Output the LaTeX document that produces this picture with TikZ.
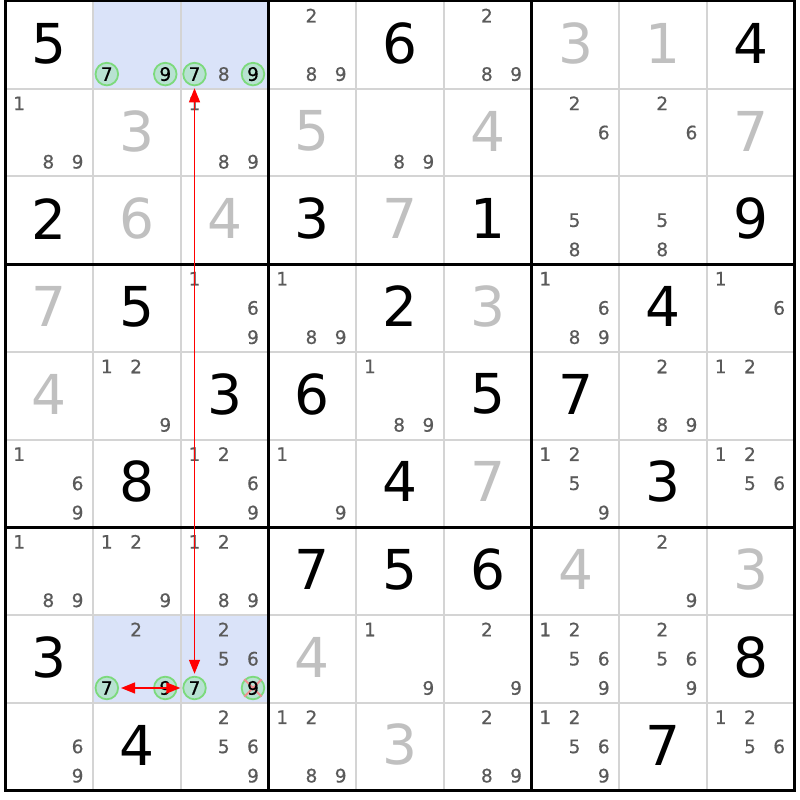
\documentclass[tikz,border=0pt]{standalone}
\usepackage{fontspec}
\setmainfont{DejaVu Sans}
\newfontfamily\candfont[FakeBold=0.6]{DejaVu Sans}
\usetikzlibrary{arrows.meta}
\definecolor{candgray}{HTML}{5A5A5A}
\definecolor{givengray}{HTML}{C0C0C0}
\definecolor{hilite}{HTML}{DAE3F9}
\definecolor{thingrid}{HTML}{D4D4D4}
\definecolor{ringgreen}{HTML}{7CDA7C}
\definecolor{ringfill}{HTML}{B8E2D2}
\definecolor{crosspink}{HTML}{F09090}
\definecolor{arrowred}{HTML}{FF0000}
\def\XO{5.5}
\def\YO{1}
\def\CS{87.7}
\tikzset{
  bigdigit/.style={inner sep=0pt, font=\fontsize{55}{55}\selectfont},
  canddigit/.style={inner sep=0pt, text=candgray, font=\candfont\fontsize{18.5}{18.5}\selectfont},
  ringnode/.style={circle, minimum size=22.6pt, inner sep=0pt, draw=ringgreen, fill=ringfill, line width=1.8pt},
  ringtext/.style={inner sep=0pt, text=black, font=\candfont\fontsize{18.5}{18.5}\selectfont},
  crossline/.style={draw=crosspink, line width=2pt},
  linkarrow/.style={draw=arrowred, line width=1.3pt, {Triangle[length=14pt,width=11pt]}-{Triangle[length=14pt,width=11pt]}, shorten <=2pt, shorten >=2pt},
  thinline/.style={draw=thingrid, line width=2pt},
  thickline/.style={draw=black, line width=3pt}
}
% big digit: row, col, digit, colour
\newcommand{\BigD}[4]{%
  \node[bigdigit, text=#4] (g-#1-#2) at ({\XO+(#2+0.5)*\CS},{\YO+(#1+0.5)*\CS-1.5}) {#3};}
% candidates: row, col, list
\newcommand{\Cands}[3]{%
  \foreach \d in {#3} {
    \pgfmathtruncatemacro{\sr}{(\d-1)/3}
    \pgfmathtruncatemacro{\sc}{\d-1-3*\sr}
    \node[canddigit] (k-#1-#2-\d) at ({\XO+#2*\CS+(\sc+0.5)*\CS/3-1},{\YO+#1*\CS+(\sr+0.5)*\CS/3}) {\d};
  }}
% ringed candidate: name, row, col, digit
\newcommand{\Ring}[4]{%
  \pgfmathtruncatemacro{\sr}{(#4-1)/3}
  \pgfmathtruncatemacro{\sc}{#4-1-3*\sr}
  \node[ringnode] (#1) at ({\XO+#3*\CS+(\sc+0.5)*\CS/3-1},{\YO+#2*\CS+(\sr+0.5)*\CS/3}) {};}
\begin{document}
\begin{tikzpicture}[x=1pt,y=-1pt]
\useasboundingbox (0,0) rectangle (800,800);
\fill[white] (0,0) rectangle (800,800);
% highlighted cells
\fill[hilite] ({\XO+\CS},{\YO}) rectangle ({\XO+3*\CS},{\YO+\CS});
\fill[hilite] ({\XO+\CS},{\YO+7*\CS}) rectangle ({\XO+3*\CS},{\YO+8*\CS});
% thin lines
\foreach \i in {1,2,4,5,7,8} {
  \draw[thinline] ({\XO+\i*\CS},{\YO}) -- ({\XO+\i*\CS},{\YO+9*\CS});
  \draw[thinline] ({\XO},{\YO+\i*\CS}) -- ({\XO+9*\CS},{\YO+\i*\CS});
}
% thick lines
\foreach \i in {0,3,6,9} {
  \draw[thickline] ({\XO+\i*\CS},{\YO-1.5}) -- ({\XO+\i*\CS},{\YO+9*\CS+1.5});
  \draw[thickline] ({\XO-1.5},{\YO+\i*\CS}) -- ({\XO+9*\CS+1.5},{\YO+\i*\CS});
}
% row 0
\BigD{0}{0}{5}{black}
\Cands{0}{2}{8}
\Cands{0}{3}{2,8,9}
\BigD{0}{4}{6}{black}
\Cands{0}{5}{2,8,9}
\BigD{0}{6}{3}{givengray}
\BigD{0}{7}{1}{givengray}
\BigD{0}{8}{4}{black}
% row 1
\Cands{1}{0}{1,8,9}
\BigD{1}{1}{3}{givengray}
\Cands{1}{2}{1,8,9}
\BigD{1}{3}{5}{givengray}
\Cands{1}{4}{8,9}
\BigD{1}{5}{4}{givengray}
\Cands{1}{6}{2,6}
\Cands{1}{7}{2,6}
\BigD{1}{8}{7}{givengray}
% row 2
\BigD{2}{0}{2}{black}
\BigD{2}{1}{6}{givengray}
\BigD{2}{2}{4}{givengray}
\BigD{2}{3}{3}{black}
\BigD{2}{4}{7}{givengray}
\BigD{2}{5}{1}{black}
\Cands{2}{6}{5,8}
\Cands{2}{7}{5,8}
\BigD{2}{8}{9}{black}
% row 3
\BigD{3}{0}{7}{givengray}
\BigD{3}{1}{5}{black}
\Cands{3}{2}{1,6,9}
\Cands{3}{3}{1,8,9}
\BigD{3}{4}{2}{black}
\BigD{3}{5}{3}{givengray}
\Cands{3}{6}{1,6,8,9}
\BigD{3}{7}{4}{black}
\Cands{3}{8}{1,6}
% row 4
\BigD{4}{0}{4}{givengray}
\Cands{4}{1}{1,2,9}
\BigD{4}{2}{3}{black}
\BigD{4}{3}{6}{black}
\Cands{4}{4}{1,8,9}
\BigD{4}{5}{5}{black}
\BigD{4}{6}{7}{black}
\Cands{4}{7}{2,8,9}
\Cands{4}{8}{1,2}
% row 5
\Cands{5}{0}{1,6,9}
\BigD{5}{1}{8}{black}
\Cands{5}{2}{1,2,6,9}
\Cands{5}{3}{1,9}
\BigD{5}{4}{4}{black}
\BigD{5}{5}{7}{givengray}
\Cands{5}{6}{1,2,5,9}
\BigD{5}{7}{3}{black}
\Cands{5}{8}{1,2,5,6}
% row 6
\Cands{6}{0}{1,8,9}
\Cands{6}{1}{1,2,9}
\Cands{6}{2}{1,2,8,9}
\BigD{6}{3}{7}{black}
\BigD{6}{4}{5}{black}
\BigD{6}{5}{6}{black}
\BigD{6}{6}{4}{givengray}
\Cands{6}{7}{2,9}
\BigD{6}{8}{3}{givengray}
% row 7
\BigD{7}{0}{3}{black}
\Cands{7}{1}{2}
\Cands{7}{2}{2,5,6}
\BigD{7}{3}{4}{givengray}
\Cands{7}{4}{1,9}
\Cands{7}{5}{2,9}
\Cands{7}{6}{1,2,5,6,9}
\Cands{7}{7}{2,5,6,9}
\BigD{7}{8}{8}{black}
% row 8
\Cands{8}{0}{6,9}
\BigD{8}{1}{4}{black}
\Cands{8}{2}{2,5,6,9}
\Cands{8}{3}{1,2,8,9}
\BigD{8}{4}{3}{givengray}
\Cands{8}{5}{2,8,9}
\Cands{8}{6}{1,2,5,6,9}
\BigD{8}{7}{7}{black}
\Cands{8}{8}{1,2,5,6}
% ringed candidates
\Ring{ra7}{0}{1}{7}
\Ring{ra9}{0}{1}{9}
\Ring{rb7}{0}{2}{7}
\Ring{rb9}{0}{2}{9}
\Ring{rc7}{7}{1}{7}
\Ring{rc9}{7}{1}{9}
\Ring{rd7}{7}{2}{7}
\Ring{rd9}{7}{2}{9}
% elimination cross
\draw[crossline] (rd9.north west) -- (rd9.south east);
\draw[crossline] (rd9.north east) -- (rd9.south west);
% ring texts
\node[ringtext] (ta7) at (ra7) {7};
\node[ringtext] (ta9) at (ra9) {9};
\node[ringtext] (tb7) at (rb7) {7};
\node[ringtext] (tb9) at (rb9) {9};
\node[ringtext] (tc7) at (rc7) {7};
\node[ringtext] (tc9) at (rc9) {9};
\node[ringtext] (td7) at (rd7) {7};
\node[ringtext] (td9) at (rd9) {9};
% links
\draw[linkarrow] (rb7) -- (rd7);
\draw[linkarrow] (rc7) -- (rd7);
\end{tikzpicture}
\end{document}
